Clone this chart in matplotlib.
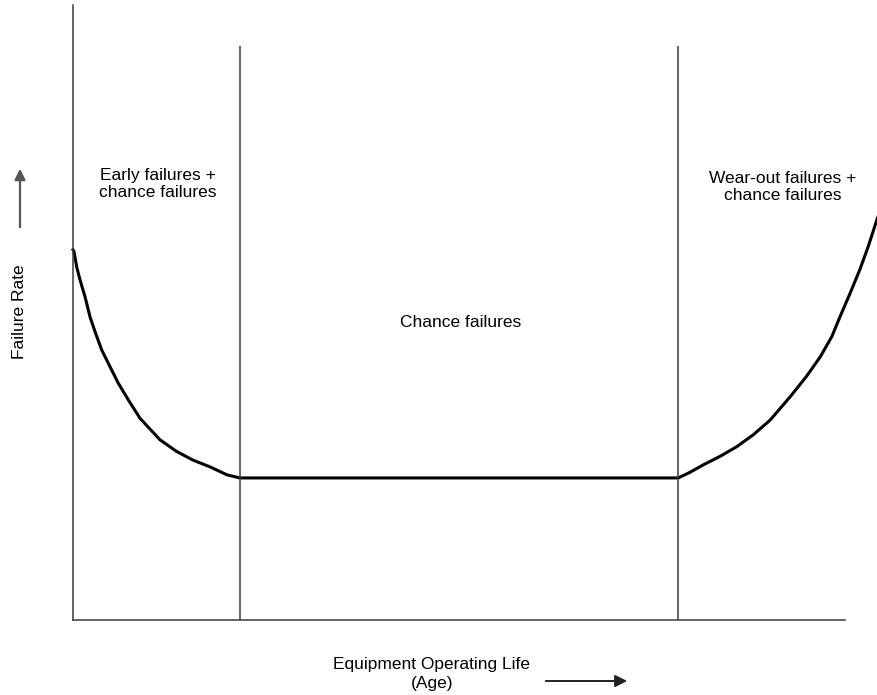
import matplotlib.pyplot as plt
from matplotlib.patches import FancyArrowPatch

# Bathtub curve (age and failure rate in % of axis)
age_early = [0.0, 0.13, 0.48, 0.91, 1.55, 2.20, 2.85, 3.72, 4.79, 5.87,
             7.16, 8.68, 11.27, 13.43, 15.54, 17.75, 19.95, 21.6]
rate_early = [60.2, 59.9, 57.4, 55.3, 52.6, 49.3, 46.9, 43.9, 41.2, 38.5,
              35.8, 32.8, 29.3, 27.4, 26.0, 24.9, 23.6, 23.1]
age_chance = [21.6, 78.4]
rate_chance = [23.1, 23.1]
age_wear = [78.4, 79.9, 81.6, 83.8, 86.0, 88.1, 90.3, 92.9, 95.0, 96.8,
            98.3, 99.35, 100.65, 101.9, 103.0, 103.7, 104.1, 104.4]
rate_wear = [23.1, 24.0, 25.2, 26.6, 28.2, 30.1, 32.5, 36.3, 39.6, 42.8,
             46.1, 49.3, 53.1, 56.9, 60.7, 63.4, 65.0, 66.0]
boundaries = [21.6, 78.4]
boundary_top = 93.3

W, H = 878, 695
plt.rcParams['font.family'] = ['Liberation Sans', 'DejaVu Sans']

fig = plt.figure(figsize=(W / 100, H / 100), dpi=100)
ax = fig.add_axes([73 / W, (H - 620) / H, 772 / W, 615 / H])
ax.set_xlim(0, 100)
ax.set_ylim(0, 100)

ax.plot(age_early + age_chance[1:] + age_wear[1:],
        rate_early + rate_chance[1:] + rate_wear[1:],
        color='black', lw=2.2, clip_on=False, solid_joinstyle='round')
for b in boundaries:
    ax.vlines(b, 0, boundary_top, color='#3a3a3a', lw=1.1)

for side in ['top', 'right']:
    ax.spines[side].set_visible(False)
for side in ['left', 'bottom']:
    ax.spines[side].set_color('#3a3a3a')
    ax.spines[side].set_linewidth(1.1)
ax.set_xticks([])
ax.set_yticks([])


def px(x, y):
    return x / W, 1 - y / H


fs = 12.5
fig.text(*px(158, 184), 'Early failures +\nchance failures', ha='center',
         va='center', fontsize=fs, linespacing=1.12)
fig.text(*px(783, 187), 'Wear-out failures +\nchance failures', ha='center',
         va='center', fontsize=fs, linespacing=1.12)
fig.text(*px(461, 323), 'Chance failures', ha='center', va='center',
         fontsize=fs)
fig.text(*px(20, 312), 'Failure Rate', ha='center', va='center',
         fontsize=fs, rotation=90)
fig.text(*px(432, 674), 'Equipment Operating Life\n(Age)', ha='center',
         va='center', fontsize=fs, linespacing=1.3)

fig.add_artist(FancyArrowPatch(
    px(20, 230), px(20, 166), transform=fig.transFigure,
    arrowstyle='-|>', color='#555555', lw=1.6, mutation_scale=16))
fig.add_artist(FancyArrowPatch(
    px(543, 681), px(630, 681), transform=fig.transFigure,
    arrowstyle='-|>', color='#222222', lw=1.4, mutation_scale=18))

fig.savefig('out.png', dpi=100)
